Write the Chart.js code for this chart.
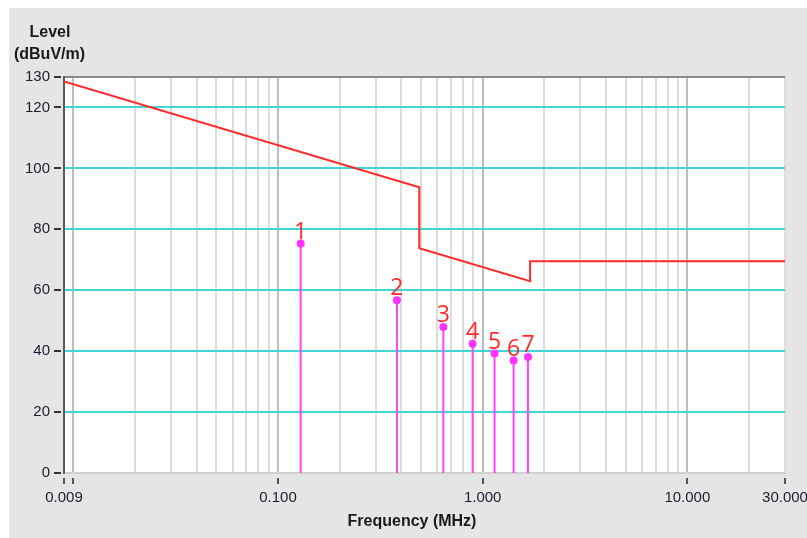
<!DOCTYPE html>
<html>
<head>
<meta charset="utf-8">
<script src="https://cdn.jsdelivr.net/npm/chart.js@4/dist/chart.umd.min.js"></script>
<style>
  html, body { margin: 0; padding: 0; background: #fff; }
  #wrap { position: absolute; left: 9px; top: 8px; width: 798px; height: 530px; background: #e5e5e5; }
  canvas { display: block; }
</style>
</head>
<body>
<div id="wrap"><canvas id="emi" width="798" height="530"></canvas></div>
<script>
// limit line (MHz, dBuV/m)
const limitFreq = [0.009, 0.49, 0.49, 1.705, 1.705, 30];
const limitLevel = [128.5, 93.8, 73.8, 63.0, 69.5, 69.5];

// measured peaks
const peakFreq = [0.129, 0.381, 0.642, 0.893, 1.143, 1.416, 1.664];
const peakLevel = [75.3, 56.7, 47.9, 42.4, 39.2, 36.9, 38.1];

// axis ticks
const yTicks = [0, 20, 40, 60, 80, 100, 120, 130];
const xLabelValues = [0.009, 0.1, 1, 10, 30];
const xLabels = ["0.009", "0.100", "1.000", "10.000", "30.000"];
const xTickMarks = [0.009, 0.01, 0.1, 1, 10, 30];

// grid lines at 1..9 x each decade
const xGrid = [0.009];
[0.01, 0.1, 1, 10].forEach((d) => {
  for (let m = 1; m <= 9; m++) {
    const v = +(d * m).toPrecision(6);
    if (v <= 30) xGrid.push(v);
  }
});
if (xGrid[xGrid.length - 1] !== 30) xGrid.push(30);

const isDecade = (v) => Math.abs(Math.log10(v) - Math.round(Math.log10(v))) < 1e-9;
const near = (a, b) => Math.abs(a - b) < 1e-9 * Math.max(1, b);

const limitData = limitFreq.map((f, i) => ({ x: f, y: limitLevel[i] }));
const peakData = [];
peakFreq.forEach((f, i) => {
  peakData.push({ x: f, y: 0 });
  peakData.push({ x: f, y: peakLevel[i] });
  peakData.push({ x: f, y: null });
});

const FONT = "'Liberation Sans', Arial, sans-serif";

const plotBg = {
  id: "plotBg",
  beforeDraw(chart) {
    const a = chart.chartArea;
    const ctx = chart.ctx;
    ctx.save();
    ctx.fillStyle = "#ffffff";
    ctx.fillRect(a.left, a.top, a.right - a.left, a.bottom - a.top);
    ctx.restore();
  }
};

const textBits = {
  id: "textBits",
  afterDraw(chart) {
    const ctx = chart.ctx;
    ctx.save();
    ctx.fillStyle = "#1a1a1a";
    ctx.font = "bold 16px " + FONT;
    ctx.textAlign = "center";
    ctx.textBaseline = "middle";
    ctx.fillText("Level", 41, 25);
    ctx.fillText("(dBuV/m)", 40.5, 47);
    ctx.fillText("Frequency (MHz)", 403, 514);

    // peak numbers
    const meta = chart.getDatasetMeta(1);
    ctx.font = "23px 'Open Sans', 'Noto Sans', sans-serif";
    ctx.fillStyle = "#ff2b2b";
    ctx.textBaseline = "alphabetic";
    meta.data.forEach((el, idx) => {
      if (idx % 3 !== 1) return;
      ctx.fillText(String((idx - 1) / 3 + 1), el.x, el.y - 5);
    });
    ctx.restore();
  }
};

new Chart(document.getElementById("emi"), {
  type: "scatter",
  data: {
    datasets: [
      {
        data: limitData,
        showLine: true,
        borderColor: "#ff2b2b",
        borderWidth: 2,
        pointRadius: 0,
        tension: 0
      },
      {
        data: peakData,
        showLine: true,
        spanGaps: false,
        borderColor: "#ff44ff",
        borderWidth: 2,
        backgroundColor: "#ff33ff",
        pointBorderWidth: 0,
        pointRadius: (c) => (c.dataIndex % 3 === 1 ? 4 : 0)
      }
    ]
  },
  options: {
    responsive: false,
    devicePixelRatio: 1,
    animation: false,
    layout: { padding: { left: 0, top: 69, right: 22, bottom: 0 } },
    plugins: { legend: { display: false }, tooltip: { enabled: false } },
    scales: {
      x: {
        type: "logarithmic",
        min: 0.009,
        max: 30,
        afterBuildTicks: (s) => { s.ticks = xGrid.map((v) => ({ value: v })); },
        afterFit: (s) => { s.height = 65; s.paddingLeft = 0; s.paddingRight = 0; },
        ticks: {
          autoSkip: false,
          maxRotation: 0,
          padding: 5,
          color: "#1c1c30",
          font: { family: FONT, size: 15 },
          callback: (v) => {
            const i = xLabelValues.findIndex((x) => near(v, x));
            return i >= 0 ? xLabels[i] : "";
          }
        },
        grid: {
          lineWidth: 2,
          color: (c) => (c.tick && isDecade(c.tick.value) ? "#bdbdbd" : "#dcdcdc"),
          tickLength: 11,
          tickWidth: 2,
          tickBorderDash: [0, 4, 7, 30],
          tickColor: (c) => (c.tick && xTickMarks.some((x) => near(c.tick.value, x)) ? "#555555" : "rgba(0,0,0,0)")
        },
        border: { color: "#d0d0d0", width: 1 }
      },
      y: {
        min: 0,
        max: 130,
        afterBuildTicks: (s) => { s.ticks = yTicks.map((v) => ({ value: v })); },
        afterFit: (s) => { s.width = 55; },
        ticks: {
          padding: 4,
          color: "#1c1c30",
          font: { family: FONT, size: 15 }
        },
        grid: {
          lineWidth: 2,
          color: (c) => {
            const v = c.tick ? c.tick.value : 0;
            if (v === 0) return "#d0d0d0";
            if (v === 130) return "#8a8a8a";
            return "#3ed6d6";
          },
          tickLength: 10,
          tickWidth: 2,
          tickBorderDash: [7, 30],
          tickColor: "#333333"
        },
        border: { color: "#5a5a5a", width: 2 }
      }
    }
  },
  plugins: [plotBg, textBits]
});
</script>
</body>
</html>
